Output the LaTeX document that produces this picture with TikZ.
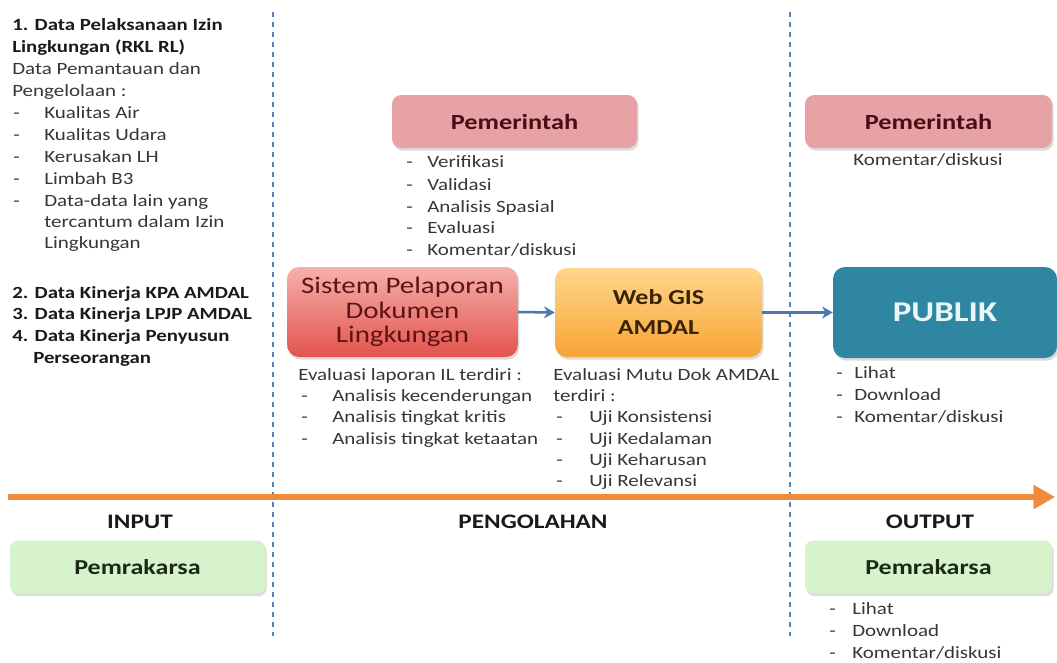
\documentclass[tikz,border=0pt]{standalone}
\usepackage{fontspec}
\setmainfont{Carlito}[FakeStretch=1.22]
\usetikzlibrary{arrows.meta,shadows}
\definecolor{txtgray}{HTML}{363636}
\definecolor{txtdark}{HTML}{1A1A1A}
\definecolor{dashblue}{HTML}{5A80B8}
\definecolor{linkblue}{HTML}{4A78B0}
\definecolor{flowor}{HTML}{F08A3C}
\definecolor{pemfill}{HTML}{E6A2A4}
\definecolor{pemtxt}{HTML}{4A0C16}
\definecolor{sistop}{HTML}{F6B0AC}
\definecolor{sisbot}{HTML}{E2544C}
\definecolor{sistxt}{HTML}{5E1414}
\definecolor{webtop}{HTML}{FFD68C}
\definecolor{webbot}{HTML}{F7A535}
\definecolor{webtxt}{HTML}{3A2205}
\definecolor{pubfill}{HTML}{2F86A0}
\definecolor{pubtxt}{HTML}{E8F6FA}
\definecolor{grnfill}{HTML}{D6F3CC}
\definecolor{grntxt}{HTML}{1C2A14}
\newcommand\komdisk{Komentar/diskusi}
\begin{document}
\begin{tikzpicture}[x=0.75pt,y=-0.75pt,
  txt/.style={anchor=base west,inner sep=0pt,text=txtgray,font=\fontsize{12.9}{15}\selectfont},
  ltxt/.style={txt,font=\fontsize{12.9}{15}\selectfont},
  lbold/.style={txt,text=txtdark,font=\fontsize{12.8}{15}\selectfont\bfseries},
  ctxt/.style={anchor=base,inner sep=0pt,text=txtgray,font=\fontsize{12.9}{15}\selectfont},
  phase/.style={anchor=center,inner sep=0pt,text=txtdark,font=\fontsize{15.5}{18}\selectfont\bfseries},
  boxshadow/.style={drop shadow={opacity=0.28,shadow xshift=1.2pt,shadow yshift=-2pt}},
  pembox/.style={rounded corners=7pt,fill=pemfill,boxshadow,text=pemtxt,
     font=\fontsize{16.2}{19}\selectfont\bfseries,minimum height=39.75pt,inner sep=0pt},
  sisbox/.style={rounded corners=9pt,top color=sistop,bottom color=sisbot,boxshadow,text=sistxt,
     font=\fontsize{17.8}{20}\selectfont,align=center,minimum width=173pt,minimum height=67.5pt,inner sep=0pt},
  webbox/.style={rounded corners=9pt,top color=webtop,bottom color=webbot,boxshadow,text=webtxt,
     font=\fontsize{16}{22.5}\selectfont\bfseries,align=center,minimum width=155.25pt,minimum height=66.75pt,inner sep=0pt},
  pubbox/.style={rounded corners=9pt,fill=pubfill,boxshadow,text=pubtxt,
     font=\fontsize{21.5}{24}\selectfont\bfseries,minimum width=168pt,minimum height=68.25pt,inner sep=0pt},
  grnbox/.style={rounded corners=6pt,fill=grnfill,boxshadow,text=grntxt,
     font=\fontsize{16}{19}\selectfont\bfseries,minimum height=39.75pt,inner sep=0pt},
  sep/.style={dashblue,line width=2pt,dash pattern=on 4pt off 3.5pt},
  link/.style={linkblue,line width=1.9pt,-{Stealth[length=8pt,width=9pt]}},
  flow/.style={flowor,line width=4.5pt,-{Triangle[length=16pt,width=17pt]}}
]
\useasboundingbox (0,0) rectangle (1057,662);

% phase separators
\coordinate (s1t) at (273,12); \coordinate (s1b) at (273,636);
\coordinate (s2t) at (790,12); \coordinate (s2b) at (790,636);
\draw[sep] (s1t) -- (s1b);
\draw[sep] (s2t) -- (s2b);

% main flow arrow
\coordinate (fa) at (8,497); \coordinate (fb) at (1055,497);
\draw[flow,opacity=0.25,black,shift={(1pt,-2pt)}] (fa) -- (fb);
\draw[flow] (fa) -- (fb);

% left input block
\node[lbold] (h1a) at (12,30) {1. Data Pelaksanaan Izin};
\node[lbold] (h1b) at (12,52) {Lingkungan (RKL RL)};
\node[ltxt] (p1) at (12,74) {Data Pemantauan dan};
\node[ltxt] (p2) at (12,96) {Pengelolaan :};
\foreach \t/\yy [count=\i] in {Kualitas Air/118, Kualitas Udara/140, Kerusakan LH/162, Limbah B3/184, Data-data lain yang/206} {
  \node[ltxt] (ld\i) at (13,\yy) {-};
  \node[ltxt] (lt\i) at (44,\yy) {\t};
}
\node[ltxt] (lt6) at (44,227) {tercantum dalam Izin};
\node[ltxt] (lt7) at (44,248) {Lingkungan};
\node[lbold] (h2) at (12,298) {2. Data Kinerja KPA AMDAL};
\node[lbold] (h3) at (12,319) {3. Data Kinerja LPJP AMDAL};
\node[lbold] (h4) at (12,341) {4. Data Kinerja Penyusun};
\node[lbold] (h4b) at (33,363) {Perseorangan};

% Pemerintah (processing)
\node[pembox,minimum width=183.75pt] (pem1) at (514.5,121.5) {Pemerintah};
\foreach \t/\yy [count=\i] in {Verifikasi/167, Validasi/190, Analisis Spasial/212, Evaluasi/233, \komdisk/255} {
  \node[txt] (md\i) at (406,\yy) {-};
  \node[txt] (mt\i) at (427,\yy) {\t};
}

% Pemerintah (output)
\node[pembox,minimum width=185.25pt] (pem2) at (928.5,121.5) {Pemerintah};
\node[ctxt] (pem2k) at (928,165) {\komdisk};

% processing boxes
\node[sisbox] (sis) at (402.5,312) {Sistem Pelaporan\\[-1.5pt]Dokumen\\[-1.5pt]Lingkungan};
\node[webbox] (web) at (658.5,312.5) {Web GIS\\AMDAL};
\node[pubbox] (pub) at (945,312.5) {PUBLIK};
\draw[link] (sis.east) -- (web.west);
\draw[link] (web.east) -- (pub.west);

% Sistem list
\node[txt] (se0) at (298,380) {Evaluasi laporan IL terdiri :};
\foreach \t/\yy [count=\i] in {Analisis kecenderungan/401, Analisis tingkat kritis/422, Analisis tingkat ketaatan/444} {
  \node[txt] (sd\i) at (301,\yy) {-};
  \node[txt] (st\i) at (332,\yy) {\t};
}

% Web GIS list
\node[txt] (we0) at (553,380) {Evaluasi Mutu Dok AMDAL};
\node[txt] (we1) at (553,401) {terdiri :};
\foreach \t/\yy [count=\i] in {Uji Konsistensi/422, Uji Kedalaman/444, Uji Keharusan/465, Uji Relevansi/486} {
  \node[txt] (wd\i) at (556,\yy) {-};
  \node[txt] (wt\i) at (589,\yy) {\t};
}

% PUBLIK list
\foreach \t/\yy [count=\i] in {Lihat/378, Download/400, \komdisk/422} {
  \node[txt] (pd\i) at (836,\yy) {-};
  \node[txt] (pt\i) at (854,\yy) {\t};
}

% phase labels
\node[phase] (lin) at (140,522) {INPUT};
\node[phase] (lpr) at (533,522) {PENGOLAHAN};
\node[phase] (lout) at (930,522) {OUTPUT};

% Pemrakarsa boxes
\node[grnbox,minimum width=191.25pt] (gin) at (137.5,567) {Pemrakarsa};
\node[grnbox,minimum width=185.25pt] (gout) at (928.5,567) {Pemrakarsa};
\foreach \t/\yy [count=\i] in {Lihat/614, Download/636, \komdisk/658} {
  \node[txt] (gd\i) at (829,\yy) {-};
  \node[txt] (gt\i) at (852,\yy) {\t};
}
\end{tikzpicture}
\end{document}
